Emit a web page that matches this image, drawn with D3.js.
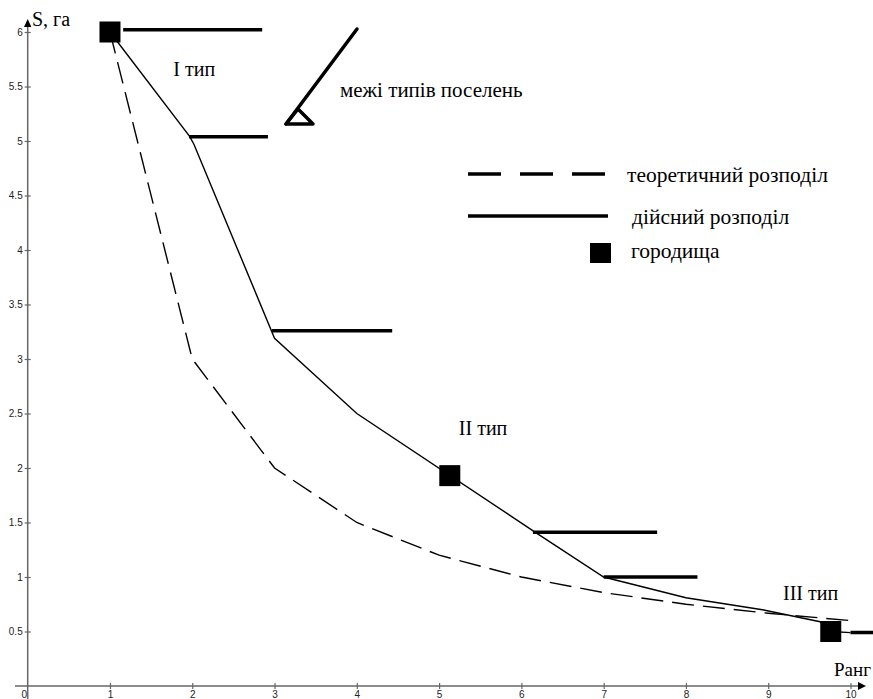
<!DOCTYPE html>
<html><head><meta charset="utf-8">
<script src="https://cdn.jsdelivr.net/npm/d3@7"></script>
<style>html,body{margin:0;padding:0;background:#fff;overflow:hidden}</style>
</head><body>
<svg id="c" width="873" height="699"></svg>
<script>
// ---- data ----
const xTicks = [1,2,3,4,5,6,7,8,9,10];
const yTicks = [0.5,1,1.5,2,2.5,3,3.5,4,4.5,5,5.5,6];
const theoRank = [1,2,3,4,5,6,7,8,9,10];
const theoArea = [6,3,2,1.5,1.2,1.0,0.857,0.75,0.667,0.6];
const actRank = [1,1.97,2.02,3.0,4.0,6.17,7.0,8.0,8.93,9.63,9.76,10.0];
const actArea = [6,5.04,4.97,3.19,2.5,1.41,1.0,0.81,0.70,0.59,0.50,0.49];
const hillRank = [1,5.13,9.76];
const hillArea = [6,1.93,0.50];
const boundStart = [1.16,1.96,2.97,6.14,7.0,10.0];
const boundEnd   = [2.85,2.92,4.43,7.65,8.14,10.4];
const boundArea  = [6.02,5.04,3.26,1.41,1.0,0.49];
const typeLabels = ["I тип","II тип","III тип"];
const typeRank = [1.77,5.24,9.18];
const typeArea = [5.6,2.3,0.79];
const legendLabels = ["теоретичний розподіл","дійсний розподіл","городища"];

// ---- drawing ----
const svg = d3.select("#c");
const x = d3.scaleLinear().domain([0,10]).range([27.7,850.5]);
const y = d3.scaleLinear().domain([0,6]).range([686,32]);
const axisCol = "#666";

// x axis
const xa = svg.append("g").attr("transform","translate(0,686)")
  .call(d3.axisBottom(x).tickValues(xTicks).tickSize(3).tickSizeOuter(0).tickFormat(d3.format("d")));
xa.select(".domain").remove();
xa.selectAll(".tick line").attr("stroke",axisCol).attr("y1",-3).attr("y2",3).attr("stroke-width",1.2);
xa.selectAll(".tick text").attr("y",5).attr("font-family","Arial, Liberation Sans, sans-serif").attr("font-size",10).attr("fill","#222");
svg.append("line").attr("x1",15).attr("x2",858).attr("y1",686).attr("y2",686).attr("stroke",axisCol).attr("stroke-width",1.5);
svg.append("path").attr("d","M858,682 L866,686 L858,690 Z").attr("fill","#000");
svg.append("text").attr("x",x(0)-3.5).attr("y",698).attr("text-anchor","middle")
  .attr("font-family","Arial, Liberation Sans, sans-serif").attr("font-size",10).attr("fill","#222").text("0");

// y axis
const ya = svg.append("g").attr("transform","translate(27.7,0)")
  .call(d3.axisLeft(y).tickValues(yTicks).tickSize(3).tickSizeOuter(0).tickFormat(d=>String(d)));
ya.select(".domain").remove();
ya.selectAll(".tick line").attr("stroke",axisCol).attr("x1",-3).attr("x2",3).attr("stroke-width",1.2);
ya.selectAll(".tick text").attr("x",-5).attr("font-family","Arial, Liberation Sans, sans-serif").attr("font-size",10).attr("fill","#222");
svg.append("line").attr("x1",27.7).attr("x2",27.7).attr("y1",26).attr("y2",699).attr("stroke",axisCol).attr("stroke-width",1.5);
svg.append("path").attr("d","M24,27 L27.7,19 L31.4,27 Z").attr("fill","#000");

const serif = "Liberation Serif, Times New Roman, serif";
svg.append("text").attr("x",32).attr("y",26).attr("font-family",serif).attr("font-size",20).text("S, га");
svg.append("text").attr("x",871).attr("y",676).attr("text-anchor","end").attr("font-family",serif).attr("font-size",19).text("Ранг");

const line = d3.line().x(d=>x(d[0])).y(d=>y(d[1]));

// theoretical (dashed)
svg.append("path").datum(theoRank.map((r,i)=>[r,theoArea[i]]))
  .attr("d",line).attr("fill","none").attr("stroke","#000").attr("stroke-width",1.4)
  .attr("stroke-dasharray","22,9");
// actual
svg.append("path").datum(actRank.map((r,i)=>[r,actArea[i]]))
  .attr("d",line).attr("fill","none").attr("stroke","#000").attr("stroke-width",1.4);

// boundaries
svg.append("g").selectAll("line").data(boundArea).join("line")
  .attr("x1",(d,i)=>x(boundStart[i])).attr("x2",(d,i)=>x(boundEnd[i]))
  .attr("y1",d=>y(d)).attr("y2",d=>y(d))
  .attr("stroke","#000").attr("stroke-width",3.5);

// hillforts
const sq = 21;
svg.append("g").selectAll("rect").data(hillRank).join("rect")
  .attr("x",d=>x(d)-sq/2).attr("y",(d,i)=>y(hillArea[i])-sq/2)
  .attr("width",sq).attr("height",sq).attr("fill","#000");

// type labels
svg.append("g").selectAll("text").data(typeLabels).join("text")
  .attr("x",(d,i)=>x(typeRank[i])).attr("y",(d,i)=>y(typeArea[i]))
  .attr("font-family",serif).attr("font-size",20).text(d=>d);

// boundary symbol
svg.append("path").attr("d","M357,29 L286,124").attr("stroke","#000").attr("stroke-width",3.5).attr("stroke-linecap","round");
svg.append("path").attr("d","M286,124 L313,124 L298,109 Z").attr("fill","none").attr("stroke","#000").attr("stroke-width",3.5).attr("stroke-linejoin","round");
svg.append("text").attr("x",340).attr("y",97).attr("font-family",serif).attr("font-size",21).text("межі типів поселень");

// legend
svg.append("line").attr("x1",468).attr("x2",608).attr("y1",174).attr("y2",174)
  .attr("stroke","#000").attr("stroke-width",3.3).attr("stroke-dasharray","33,19");
svg.append("line").attr("x1",468).attr("x2",608).attr("y1",216).attr("y2",216)
  .attr("stroke","#000").attr("stroke-width",3.3);
svg.append("rect").attr("x",590).attr("y",243).attr("width",21).attr("height",20).attr("fill","#000");
const legX = [627,632,631], legY = [182,224,258];
svg.append("g").selectAll("text").data(legendLabels).join("text")
  .attr("x",(d,i)=>legX[i]).attr("y",(d,i)=>legY[i])
  .attr("font-family",serif).attr("font-size",21.5).text(d=>d);
</script>
</body></html>
